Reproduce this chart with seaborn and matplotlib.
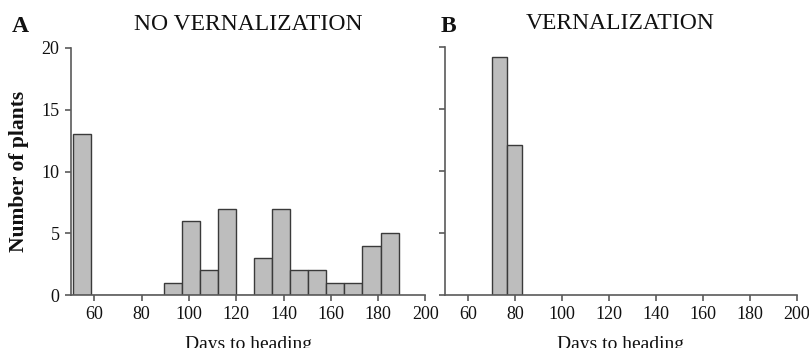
import matplotlib
matplotlib.use("Agg")
import matplotlib.pyplot as plt
import seaborn as sns
import numpy as np
import pandas as pd

# Data
edges_a = [51.0, 58.65, 66.3, 73.95, 81.6, 89.25, 96.9, 104.55, 112.2, 119.85,
           127.5, 135.15, 142.8, 150.45, 158.1, 165.75, 173.4, 181.05, 188.7]
counts_a = [13, 0, 0, 0, 0, 1, 6, 2, 7, 0, 3, 7, 2, 2, 1, 1, 4, 5]
edges_b = [70.0, 76.5, 83.0]
counts_b = [19.2, 12.1]
xticks = [60, 80, 100, 120, 140, 160, 180, 200]
yticks = [0, 5, 10, 15, 20]
titles = ["NO VERNALIZATION", "VERNALIZATION"]
letters = ["A", "B"]

sns.set_theme(style="ticks")
plt.rcParams["font.family"] = ["Liberation Serif", "DejaVu Serif"]

fig = plt.figure(figsize=(8.09, 3.48), dpi=100)
W, H = 809, 348
axA = fig.add_axes([70.7 / W, 53 / H, 354.7 / W, 247 / H])
axB = fig.add_axes([444.6 / W, 53 / H, 352 / W, 248 / H])

spine_col = "#5a5a5a"
for ax, edges, counts in [(axA, edges_a, counts_a), (axB, edges_b, counts_b)]:
    e = np.array(edges)
    df = pd.DataFrame({"day": (e[:-1] + e[1:]) / 2, "n": counts})
    sns.histplot(data=df, x="day", weights="n", bins=list(edges), ax=ax,
                 color="#bdbdbd", edgecolor="#3a3a3a", linewidth=1.0,
                 alpha=1.0)
    ax.set_xlim(50, 200)
    ax.set_ylim(0, 20)
    ax.set_xticks(xticks)
    ax.set_yticks(yticks)
    for s in ["top", "right"]:
        ax.spines[s].set_visible(False)
    for s in ["left", "bottom"]:
        ax.spines[s].set_color(spine_col)
        ax.spines[s].set_linewidth(1.2)
    ax.tick_params(axis="both", direction="out", length=4, width=1.2,
                   color=spine_col, labelsize=13, pad=4, labelcolor="#111111")
    ax.set_xlabel("Days to heading", fontsize=14, labelpad=9, color="#111111")
    ax.set_ylabel("")

axA.set_ylabel("Number of plants", fontsize=15.5, fontweight="bold", labelpad=9,
               color="#111111")
axB.set_yticklabels([])

axA.set_title(titles[0], fontsize=17, pad=13, color="#111111")
axB.set_title(titles[1], fontsize=17, pad=13, color="#111111")
fig.text(12 / W, 1 - 27 / H, letters[0], fontsize=17, fontweight="bold",
         va="center", ha="left", color="#111111")
fig.text(441 / W, 1 - 27 / H, letters[1], fontsize=17, fontweight="bold",
         va="center", ha="left", color="#111111")

fig.savefig("out.png", dpi=100)
